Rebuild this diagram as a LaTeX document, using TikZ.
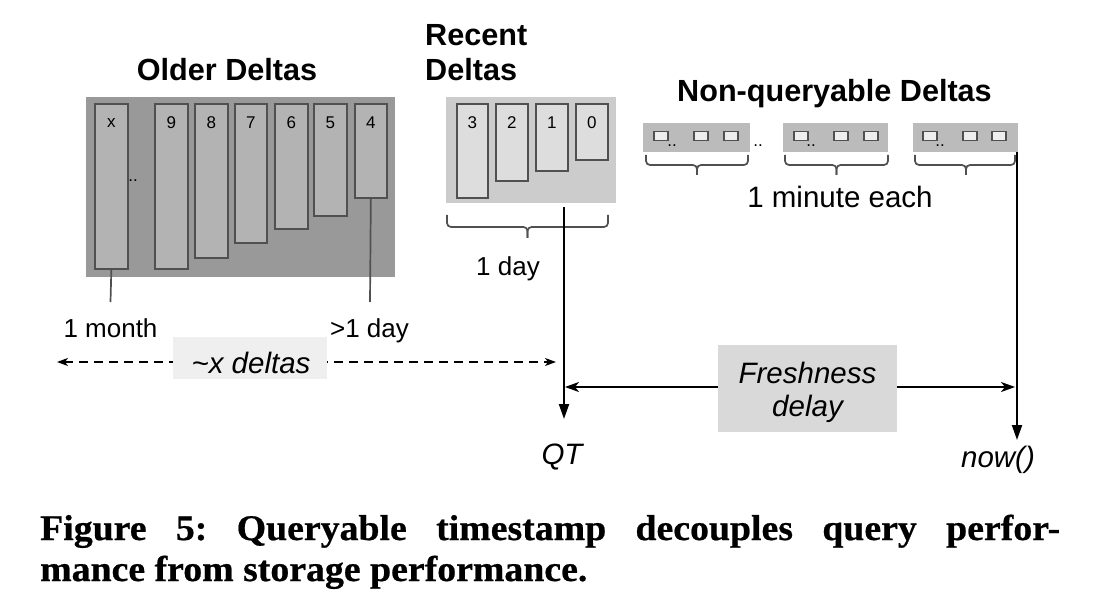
\documentclass[tikz,border=0pt]{standalone}
\usepackage{fontspec}
\setmainfont{Liberation Sans}
\newfontfamily\capfont[FakeStretch=1.05,FakeBold=0.6]{Liberation Serif}
\usetikzlibrary{arrows.meta}
\definecolor{oldbg}{HTML}{999999}
\definecolor{oldbar}{HTML}{B3B3B3}
\definecolor{edgec}{HTML}{505050}
\definecolor{recbg}{HTML}{CCCCCC}
\definecolor{recbar}{HTML}{DDDDDD}
\definecolor{stripbg}{HTML}{BBBBBB}
\definecolor{sqfill}{HTML}{EEEEEE}
\definecolor{xbg}{HTML}{EFEFEF}
\definecolor{frbg}{HTML}{D9D9D9}
\begin{document}
\begin{tikzpicture}[x=1pt,y=-1pt,
  head/.style={font=\bfseries\fontsize{30.6}{35}\selectfont, inner sep=0},
  lbl/.style={font=\fontsize{26}{30}\selectfont, inner sep=0},
  lblb/.style={font=\fontsize{29.5}{33}\selectfont, inner sep=0},
  ital/.style={font=\itshape\fontsize{29.5}{33}\selectfont, inner sep=0},
  num/.style={font=\fontsize{17}{19}\selectfont, inner sep=0},
  panel/.style={anchor=north west, inner sep=0, draw=none},
  oldbarst/.style={panel, fill=oldbar, draw=edgec, line width=1.7pt},
  recbarst/.style={panel, fill=recbar, draw=edgec, line width=1.7pt},
  sqst/.style={panel, fill=sqfill, draw=edgec, line width=1.5pt, minimum width=14pt, minimum height=9pt},
  edgeline/.style={draw=edgec, line width=1.7pt},
  bracest/.style={draw=edgec, line width=1.7pt, rounded corners=4pt},
  vline/.style={draw=black, line width=2pt, -{Triangle[length=15pt,width=10pt]}},
  harrow/.style={draw=black, line width=2pt, {Stealth[length=14pt,width=10pt,inset=4pt]}-{Stealth[length=14pt,width=10pt,inset=4pt]}},
  darrow/.style={draw=black, line width=1.5pt, dash pattern=on 9pt off 6pt, {Stealth[length=11pt,width=8pt,inset=3pt]}-{Stealth[length=11pt,width=8pt,inset=3pt]}}
]
\useasboundingbox (0,0) rectangle (1106,604);

% headings
\node[head, anchor=base] (holder) at (227,81) {Older Deltas};
\node[head, anchor=base west] (hrec1) at (425,46) {Recent};
\node[head, anchor=base west] (hrec2) at (425,81) {Deltas};
\node[head, anchor=base] (hnq) at (834.5,102) {Non-queryable Deltas};

% older deltas panel
\node[panel, fill=oldbg, minimum width=309pt, minimum height=180pt] (oldbox) at (86,97) {};
\foreach \n/\x/\w/\h/\t in {bx/94/33/165/x, b9/154/33/165/9, b8/194/33/154/8, b7/234/32/139/7, b6/274/33/125/6, b5/313/33/112/5, b4/354/32/94/4}{
  \node[oldbarst, minimum width=\w pt, minimum height=\h pt] (\n) at (\x,103) {};
  \node[num] (\n t) at ([yshift=-20pt]\n.north) {\t};
}
\node[num] (odots) at (133,181) {..};

% recent deltas panel
\node[panel, fill=recbg, minimum width=170pt, minimum height=106pt] (recbox) at (446,97) {};
\foreach \n/\x/\w/\h/\t in {r3/456/31/94/3, r2/495/32/77/2, r1/535/32/67/1, r0/575/32/56/0}{
  \node[recbarst, minimum width=\w pt, minimum height=\h pt] (\n) at (\x,103) {};
  \node[num] (\n t) at ([yshift=-20pt]\n.north) {\t};
}
\draw[bracest] (447,215) |- (527.5,227) -- (527.5,238);
\draw[bracest] (608,215) |- (527.5,227) -- (527.5,238);
\node[lbl, anchor=base] (oneday) at (508,276) {1 day};

% non-queryable deltas
\node[panel, fill=stripbg, minimum width=107pt, minimum height=29pt] (s1) at (643,123) {};
\node[panel, fill=stripbg, minimum width=105pt, minimum height=29pt] (s2) at (783,123) {};
\node[panel, fill=stripbg, minimum width=105pt, minimum height=29pt] (s3) at (913,123) {};
\foreach \x in {653,693,723,793,833,863,922,962,991}{
  \node[sqst] (sq\x) at (\x,131) {};
}
\node[num] (d1) at (672,146) {..};
\node[num] (d2) at (758,146) {..};
\node[num] (d3) at (811,146) {..};
\node[num] (d4) at (940,146) {..};
\draw[bracest] (646,155) |- (697,165) -- (697,175);
\draw[bracest] (748,155) |- (697,165) -- (697,175);
\draw[bracest] (785,155) |- (836.5,165) -- (836.5,175);
\draw[bracest] (888,155) |- (836.5,165) -- (836.5,175);
\draw[bracest] (915,155) |- (966,165) -- (966,175);
\draw[bracest] (1015,155) |- (966,165) -- (966,175);
\node[lblb, anchor=base] (minute) at (840,208) {1 minute each};

% lines from older bars
\coordinate (mline) at (110.5,302);
\coordinate (dline) at (370,302);
\draw[edgeline] (bx.south) -- (mline);
\draw[edgeline] (b4.south) -- (dline);
\node[lbl, anchor=base] (month) at (110.5,337) {1 month};
\node[lbl, anchor=base] (gtday) at (369.5,337) {>1 day};

% dashed arrow with ~x deltas
\coordinate (dl) at (57,362);
\coordinate (dr) at (556,362);
\draw[darrow] (dl) -- (dr);
\node[fill=xbg, minimum width=154pt, minimum height=42pt, inner sep=0] (xbox) at (250,358) {};
\node[ital, anchor=base] (xtxt) at (251,373) {\textasciitilde x deltas};

% QT and now lines
\coordinate (qts) at (564,207);
\coordinate (qte) at (564,419);
\coordinate (nows) at (1017,152);
\coordinate (nowe) at (1017,440);
\draw[vline] (qts) -- (qte);
\draw[vline] (nows) -- (nowe);
\node[ital, anchor=base] (qt) at (562,464) {QT};
\node[ital, anchor=base] (now) at (998,467) {now()};

% freshness delay
\coordinate (fl) at (565,387);
\coordinate (fr) at (1015,387);
\draw[harrow] (fl) -- (fr);
\node[fill=frbg, minimum width=179pt, minimum height=87pt, inner sep=0] (frbox) at (807.5,388.5) {};
\node[ital, anchor=base] (fr1) at (807.5,383) {Freshness};
\node[ital, anchor=base] (fr2) at (807.5,416) {delay};

% caption
\node[anchor=base west, text width=1020pt, align=justify, inner sep=0,
      font=\capfont\bfseries\fontsize{36}{41}\selectfont] (cap) at (40,540)
  {\frenchspacing\tolerance=10000 Figure 5: Queryable timestamp decouples query perfor-\linebreak mance from storage performance.};
\end{tikzpicture}
\end{document}
